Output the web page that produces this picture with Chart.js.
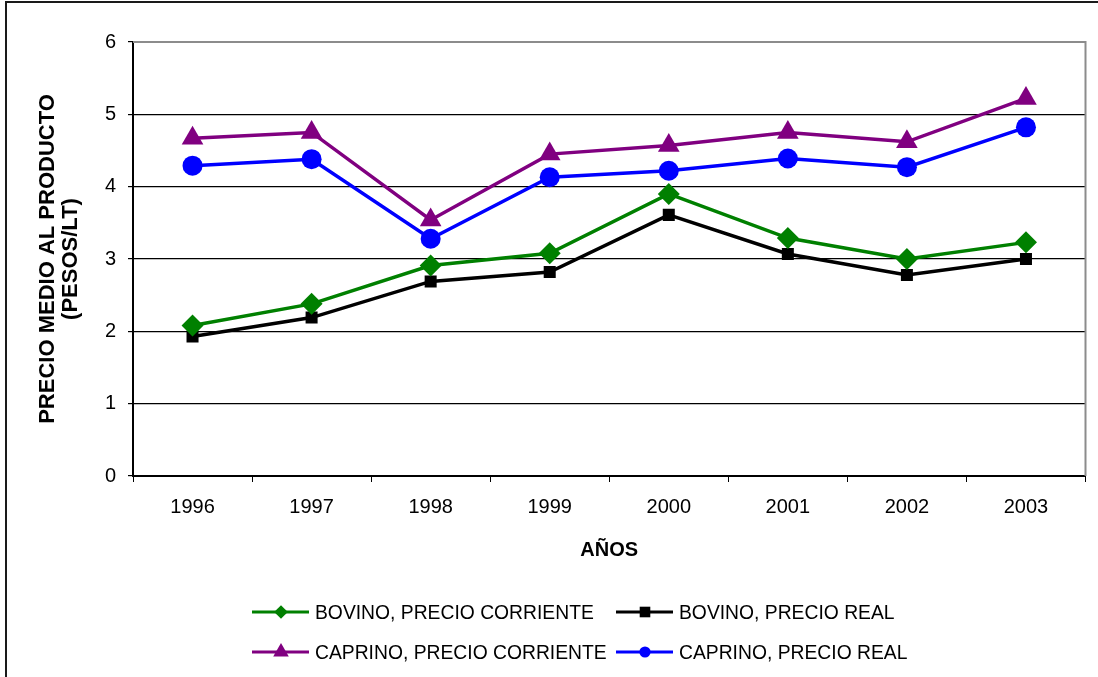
<!DOCTYPE html>
<html>
<head>
<meta charset="utf-8">
<script src="https://cdn.jsdelivr.net/npm/chart.js@4"></script>
<style>
  html, body { margin: 0; padding: 0; background: #fff; }
  #wrap { width: 1098px; height: 677px; position: relative; }
</style>
</head>
<body>
<div id="wrap"><canvas id="c" width="1098" height="677"></canvas></div>
<script>
// Years on the horizontal axis
const years = ['1996', '1997', '1998', '1999', '2000', '2001', '2002', '2003'];

// Average milk price (pesos per litre)
const bovinoCorriente  = [2.08, 2.38, 2.91, 3.08, 3.90, 3.29, 3.00, 3.23];
const bovinoReal       = [1.93, 2.19, 2.69, 2.82, 3.61, 3.07, 2.78, 3.00];
const caprinoCorriente = [4.67, 4.75, 3.54, 4.45, 4.57, 4.75, 4.62, 5.22];
const caprinoReal      = [4.29, 4.38, 3.28, 4.13, 4.22, 4.39, 4.27, 4.82];

const seriesNames = [
  'BOVINO, PRECIO CORRIENTE',
  'BOVINO, PRECIO REAL',
  'CAPRINO, PRECIO CORRIENTE',
  'CAPRINO, PRECIO REAL'
];

const yTitle = ['PRECIO MEDIO AL PRODUCTO', '(PESOS/LT)'];
const xTitle = 'AÑOS';

const FONT = "'Liberation Sans', Arial, Helvetica, sans-serif";

function line(label, data, color, shape, radius) {
  return {
    label, data,
    borderColor: color,
    backgroundColor: color,
    borderWidth: 3.5,
    pointStyle: shape,
    pointRadius: radius,
    pointHoverRadius: radius,
    pointBorderWidth: 0,
    pointBackgroundColor: color,
    tension: 0,
    fill: false
  };
}

// small marker used in the legend swatches
function drawMarker(ctx, shape, x, y, r, color) {
  ctx.save();
  ctx.fillStyle = color;
  ctx.beginPath();
  if (shape === 'circle') {
    ctx.arc(x, y, r, 0, Math.PI * 2);
  } else if (shape === 'rect') {
    const s = r * Math.SQRT1_2;
    ctx.rect(x - s, y - s, 2 * s, 2 * s);
  } else if (shape === 'rectRot') {
    ctx.moveTo(x - r, y); ctx.lineTo(x, y - r); ctx.lineTo(x + r, y); ctx.lineTo(x, y + r);
    ctx.closePath();
  } else if (shape === 'triangle') {
    const w = r * Math.sqrt(3) / 2;
    ctx.moveTo(x, y - r); ctx.lineTo(x + w, y + r / 2); ctx.lineTo(x - w, y + r / 2);
    ctx.closePath();
  }
  ctx.fill();
  ctx.restore();
}

// frame around the whole chart and the plot area border
const framePlugin = {
  id: 'frame',
  beforeDraw(chart) {
    const ctx = chart.ctx;
    ctx.save();
    ctx.fillStyle = '#fff';
    ctx.fillRect(0, 0, chart.width, chart.height);
    ctx.strokeStyle = '#1a1a1a';
    ctx.lineWidth = 2;
    ctx.beginPath();
    ctx.moveTo(6, chart.height + 5);
    ctx.lineTo(6, 2);
    ctx.lineTo(chart.width + 5, 2);
    ctx.stroke();
    ctx.restore();
  },
  beforeDatasetsDraw(chart) {
    const {ctx, chartArea: a} = chart;
    ctx.save();
    ctx.strokeStyle = '#8c8c8c';
    ctx.lineWidth = 2;
    ctx.beginPath();
    ctx.moveTo(a.left, a.top);
    ctx.lineTo(a.right, a.top);
    ctx.lineTo(a.right, a.bottom);
    ctx.stroke();
    ctx.restore();
  }
};

// two-column legend with line-and-marker swatches
const legendPlugin = {
  id: 'swatchLegend',
  afterDraw(chart) {
    const ctx = chart.ctx;
    const cols = [252, 616];
    const rows = [612, 652];
    const markerR = { rectRot: 6.8, rect: 7.5, triangle: 9, circle: 5.6 };
    chart.data.datasets.forEach((ds, i) => {
      const x0 = cols[i % 2];
      const y = rows[Math.floor(i / 2)];
      ctx.save();
      ctx.strokeStyle = ds.borderColor;
      ctx.lineWidth = 3;
      ctx.beginPath();
      ctx.moveTo(x0, y);
      ctx.lineTo(x0 + 57, y);
      ctx.stroke();
      ctx.restore();
      drawMarker(ctx, ds.pointStyle, x0 + 29, y, markerR[ds.pointStyle], ds.borderColor);
      ctx.save();
      ctx.translate(x0 + 63, y);
      ctx.scale(0.965, 1);
      ctx.fillStyle = '#000';
      ctx.font = '20px ' + FONT;
      ctx.textBaseline = 'middle';
      ctx.textAlign = 'left';
      ctx.fillText(ds.label, 0, 1);
      ctx.restore();
    });
  }
};

new Chart(document.getElementById('c'), {
  type: 'line',
  data: {
    labels: years,
    datasets: [
      line(seriesNames[0], bovinoCorriente, '#008000', 'rectRot', 11),
      line(seriesNames[1], bovinoReal, '#000000', 'rect', 8.5),
      line(seriesNames[2], caprinoCorriente, '#800080', 'triangle', 12.5),
      line(seriesNames[3], caprinoReal, '#0000ff', 'circle', 10)
    ]
  },
  options: {
    responsive: false,
    animation: false,
    events: [],
    layout: { padding: { left: 0, top: 42, right: 12, bottom: 107 } },
    plugins: {
      legend: { display: false },
      tooltip: { enabled: false }
    },
    scales: {
      x: {
        offset: true,
        grid: {
          offset: true,
          drawOnChartArea: false,
          drawTicks: true,
          tickLength: 6,
          tickColor: '#000',
          color: '#000'
        },
        border: { display: true, color: '#000', width: 2 },
        ticks: {
          color: '#000',
          font: { family: FONT, size: 20 },
          padding: 13,
          maxRotation: 0
        },
        title: {
          display: true,
          text: xTitle,
          color: '#000',
          font: { family: FONT, size: 20, weight: 'bold', lineHeight: 1.2 },
          padding: { top: 4, bottom: 8 }
        },
        afterFit(scale) { scale.height = 94; }
      },
      y: {
        min: 0,
        max: 6,
        ticks: {
          stepSize: 1,
          color: '#000',
          font: { family: FONT, size: 20 },
          padding: 12
        },
        grid: {
          color: (c) => (c.tick && c.tick.value === 6 ? '#8c8c8c' : '#000'),
          lineWidth: 1.2,
          tickLength: 5,
          tickColor: '#000'
        },
        border: { display: true, color: '#000', width: 2 },
        title: {
          display: true,
          text: yTitle,
          color: '#000',
          font: { family: FONT, size: 22, weight: 'bold', lineHeight: 1.05 },
          padding: { top: 36, bottom: 0 }
        },
        afterFit(scale) { scale.width = 133; }
      }
    }
  },
  plugins: [framePlugin, legendPlugin]
});
</script>
</body>
</html>
